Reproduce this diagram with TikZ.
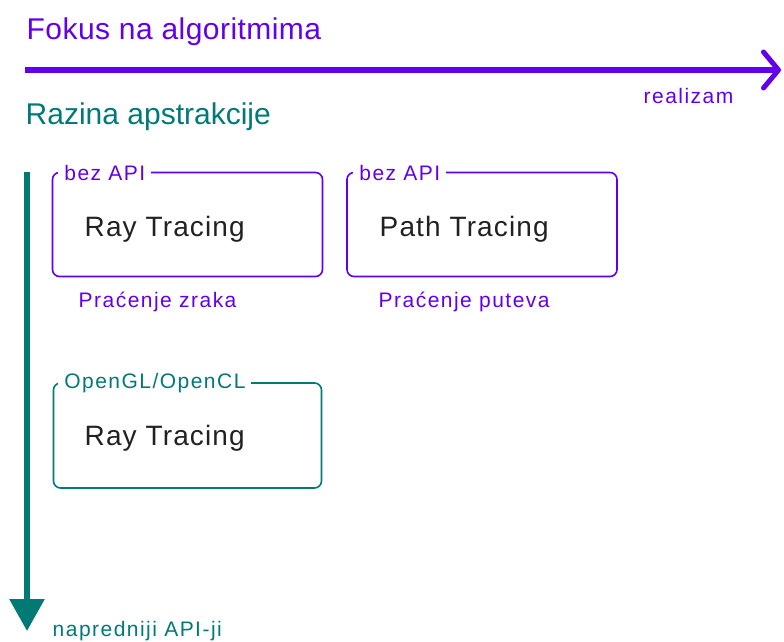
\documentclass[tikz,border=0pt]{standalone}
\usepackage{fontspec}
\setmainfont{Liberation Sans}
\newfontfamily\sitno[LetterSpace=7]{Liberation Sans}
\newfontfamily\srednje[LetterSpace=4]{Liberation Sans}
\newfontfamily\krupno[LetterSpace=1.5]{Liberation Sans}
\usetikzlibrary{arrows.meta}
\definecolor{ljubicasta}{HTML}{6200EE}
\definecolor{tirkizna}{HTML}{017A76}
\definecolor{tekst}{HTML}{212121}
\begin{document}
\begin{tikzpicture}[x=1pt,y=-1pt,thick,
  box/.style={draw,rounded corners=7pt,line width=1.6pt,minimum width=#1,minimum height=104pt,inner sep=0pt},
  box/.default=270pt,
  tag/.style={fill=white,inner xsep=6pt,inner ysep=1pt,anchor=west,font=\sitno\fontsize{21}{23}\selectfont},
  naslov/.style={anchor=base west,font=\krupno\fontsize{30}{34}\selectfont},
  metoda/.style={anchor=base west,text=tekst,font=\srednje\fontsize{28}{32}\selectfont},
  opis/.style={anchor=base west,text=ljubicasta,font=\sitno\fontsize{21}{23}\selectfont}]
\useasboundingbox (0,0) rectangle (784,641);

\coordinate (h0) at (25,70);
\coordinate (h1) at (781,70);
\coordinate (v0) at (27,172);
\coordinate (v1) at (27,631);

\node[naslov,text=ljubicasta] (fokus) at (23,39) {Fokus na algoritmima};
\node[naslov,text=tirkizna,font=\fontsize{30}{34}\selectfont] (razina) at (22,124) {Razina apstrakcije};

\draw[ljubicasta,line width=6pt,-{Straight Barb[length=15pt,width=36pt,line width=5pt,round]}] (h0) -- (h1);
\draw[tirkizna,line width=6pt,-{Triangle[length=32pt,width=34pt]}] (v0) -- (v1);

\node[opis] (real) at (640,103) {realizam};
\node[opis,text=tirkizna] (napr) at (49,636) {napredniji API-ji};

% bez API
\node[box,draw=ljubicasta] (b1) at (187.5,224.5) {};
\node[tag,text=ljubicasta] (l1) at (58,172.5) {bez API};
\node[metoda] (t1) at (81,236) {Ray Tracing};
\node[opis] (o1) at (75,307) {Praćenje zraka};

\node[box,draw=ljubicasta] (b2) at (482,224.5) {};
\node[tag,text=ljubicasta] (l2) at (353,172.5) {bez API};
\node[metoda] (t2) at (376,236) {Path Tracing};
\node[opis] (o2) at (375,307) {Praćenje puteva};

% OpenGL/OpenCL
\node[box=268pt,draw=tirkizna,minimum height=105pt] (b3) at (187.5,435.5) {};
\node[tag,text=tirkizna] (l3) at (58,383) {OpenGL/OpenCL};
\node[metoda] (t3) at (81,445) {Ray Tracing};

\end{tikzpicture}
\end{document}
